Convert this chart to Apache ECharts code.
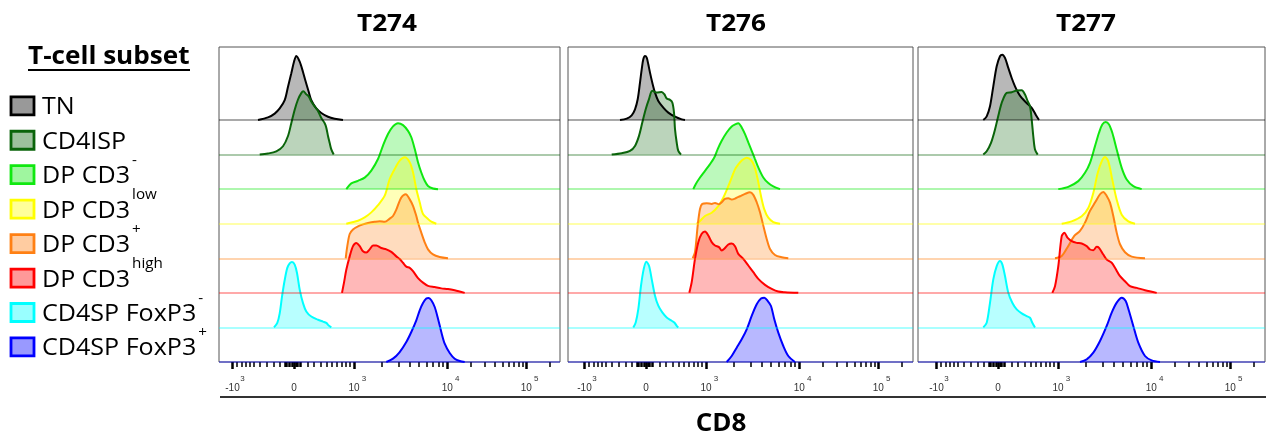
<!DOCTYPE html>
<html>
<head>
<meta charset="utf-8">
<script src="https://cdn.jsdelivr.net/npm/echarts@6/dist/echarts.min.js"></script>
<style>
  html, body { margin: 0; padding: 0; background: #fff; }
  #chart { width: 1266px; height: 438px; }
</style>
</head>
<body>
<div id="chart"></div>
<script>
// Samples (one panel each) and T-cell subsets (one ridge each, top to bottom)
const samples = ['T274', 'T276', 'T277'];
const subsetNames = ['TN', 'CD4ISP', 'DP CD3', 'DP CD3', 'DP CD3', 'DP CD3', 'CD4SP FoxP3', 'CD4SP FoxP3'];
const subsetSups  = ['', '', '-', 'low', '+', 'high', '-', '+'];
const subsetColors = ['#000000', '#0a640a', '#10e810', '#ffff00', '#ff8014', '#ff0000', '#00ffff', '#0000ff'];

// CD8 axis in display channels (biexponential scale): tick positions and labels
const majorTicks = [13.5, 75, 135, 228.3, 307.3];
const tickBases = ['-10', '0', '10', '10', '10'];
const tickExponents = ['3', '', '3', '4', '5'];
const minorTicks = [18, 22.5, 26.7, 31, 35, 41, 47.7, 54.3, 60.5,
  65.5, 66.8, 68, 69.3, 70.8, 72.5, 73.8, 76.3, 77.8, 79.2, 80.5, 81.8,
  89, 95, 102, 108, 113, 118, 122.5, 127, 130.5,
  163.1, 179.5, 191.2, 200.2, 207.6, 213.9, 219.3, 224.1,
  252.1, 266, 275.9, 283.5, 289.8, 295.1, 299.6, 303.7, 331.1];

// Histograms: [CD8 channel, % of mode], one list per subset, per sample
const t274 = [
  [[39,0],[49,4],[55.7,10],[60.7,18],[65.7,31],[69,52],[72.3,73],[75,91],[77.3,100],[80.7,91],[84,75],[86.3,62],[89.7,44],[92.3,31],[97.3,18],[102.3,11],[109,5],[115.7,2],[124,0]],
  [[40.7,0],[49,1.6],[57.3,5],[64,13],[69,29],[72.3,49],[75.7,70],[79,86],[82.3,96],[84.3,99],[87.3,94],[89.7,91],[92.3,83],[95.7,75],[99,68],[102.3,57],[105.7,49],[107.3,42],[109,29],[110.7,18],[112.3,8],[114.7,0]],
  [[127.3,0],[132.3,9],[139,13],[145.7,18],[152.3,29],[159,47],[164,68],[169,86],[174,98],[179,103],[184,100],[189,91],[192.3,81],[195.7,63],[199,42],[202.3,26],[205.7,13],[209,5],[214,1],[219,0]],
  [[127.3,0],[132.3,2],[139,4.7],[145.7,9.8],[152.3,17.7],[159,29],[165.7,43.8],[170.7,69.8],[175.7,85.5],[180.7,98.4],[185.7,103.7],[190.7,95.9],[194,80.3],[197.3,54.2],[200.7,33.4],[204,15.2],[209,7.3],[212.3,3.1],[217.3,0]],
  [[126.7,0],[128.3,19],[130.7,38],[134,45],[139,50],[144,53],[149,55],[155.7,57],[160.7,58],[165.7,57],[170.7,62],[174,66],[177.3,76],[182.3,95],[186.7,100],[190.7,92],[194,82],[197.3,66],[199,56],[202.3,40],[205.7,25],[209,14],[214,6],[220.7,2],[229,0]],
  [[123,0],[125,16],[127.3,36],[130.7,57],[134,73],[137.3,78],[140.7,73],[144,65],[147.3,63],[150.7,68],[154,74],[157.3,74],[162.3,70],[167.3,68],[172.3,64],[177.3,57],[180.7,53],[184,47],[187.3,41],[190.7,39],[194,34],[199,23],[204,16],[209,11],[215.7,9],[222.3,7],[229,6],[235.7,4],[245.7,0]],
  [[55,0],[58.3,7],[60.7,22],[63,48],[65.7,74],[68.3,93],[70.7,100],[73,102],[75.7,98],[78,85],[80.7,59],[84,38],[87.3,25],[92.3,17],[99,12],[104,9],[107.3,7],[109.7,3],[112.3,0]],
  [[167.3,0],[174,5.2],[180.7,15.6],[187.3,31.3],[192.3,46.9],[197.3,65.1],[200.7,80.7],[204,92.2],[207.3,99],[209.7,100],[212.3,96.4],[215.7,85.9],[219,67.7],[222.3,46.9],[225.7,28.6],[230.7,14.1],[235.7,5.2],[240.7,1.6],[245.7,0]]
];
const t276 = [
  [[49,0],[55.7,2.1],[60.7,7.3],[64,16.7],[66.7,32.3],[69,58.3],[70.7,79.2],[72.3,94.8],[74,100],[75.7,97.4],[77.3,87],[79,74],[81.3,58.3],[84,42.7],[87.3,29.7],[92.3,19.3],[97.3,11.5],[104,5.2],[110.7,1],[114,0]],
  [[40.7,0],[50.7,2.1],[59,5.7],[64,13.5],[68,29.2],[71.3,50],[74.7,70.8],[78,86.5],[81.3,99.5],[85.7,96.9],[90.7,97.9],[93.3,94.3],[95.7,87.5],[99,85.4],[101.3,81.3],[103,65.6],[104,39.6],[105.7,18.8],[107.3,5.7],[110,0]],
  [[122.3,0],[124.7,7.8],[129,18.2],[134,28.6],[139,39.1],[143.3,49.5],[146.7,62.5],[150.7,75.5],[155.7,88.5],[160.7,97.9],[164.7,101.6],[167.3,103.1],[170.7,96.4],[174,85.9],[177.3,72.9],[180.7,59.9],[184,46.9],[187.3,33.9],[192.3,18.2],[197.3,9.4],[202.3,4.2],[209,0]],
  [[125.7,0],[129,4.2],[134,12],[140.7,17.2],[147.3,27.6],[152.3,40.6],[156.7,56.3],[160.7,71.9],[164,84.9],[167.3,92.7],[171.3,99.5],[175.7,103.1],[180,99.5],[183.3,90.1],[186.7,69.3],[190,43.2],[193.3,22.4],[197.3,9.4],[202.3,2.6],[209,0]],
  [[121.7,0],[124,9.4],[126.7,51],[129,77.1],[131.3,84.9],[135.7,85.9],[140.7,84.9],[144,86.5],[148,84.4],[150.7,87.5],[154,92.7],[157.3,93.7],[160.7,91.7],[164.7,93.7],[169,96.9],[174,100.5],[179,103.1],[182.3,99],[185.7,87.5],[189,71.9],[192.3,51],[195.7,30.2],[199,14.6],[204,5.2],[210.7,1.6],[217.3,0]],
  [[118.3,0],[120.7,16.7],[124,53.1],[127.3,79.2],[130.7,92.2],[134,95.8],[137.3,89.6],[140.7,79.2],[144,74],[148,71.4],[150.7,66.1],[153.3,68.8],[157.3,75.5],[160.7,77.1],[164,72.9],[167.3,60.9],[172.3,53.1],[177.3,42.7],[182.3,32.3],[187.3,21.9],[194,12.5],[200.7,6.3],[207.3,2.1],[214,1],[227.3,0]],
  [[62.3,0],[64.7,7.8],[67.3,28.6],[70,65.1],[72.7,91.1],[75.3,102.6],[78,96.4],[80.7,75.5],[84,49.5],[87.3,33.9],[91.3,23.4],[95.7,15.6],[100.7,10.4],[103.3,7.8],[105.7,2.6],[107.3,0]],
  [[155.7,0],[160.7,9.4],[165.7,22.4],[170.7,35.4],[175.7,51],[180.7,71.9],[185.7,90.1],[190,99],[193.3,100.5],[196.7,95.3],[200,87.5],[203.3,66.7],[207.3,45.8],[212.3,25],[217.3,9.4],[224,0]]
];
const t277 = [
  [[60.3,0],[63.7,5.7],[67,21.4],[70.3,52.6],[73.7,83.8],[77,99.5],[79.3,102],[82,96.9],[85.3,81.3],[88.7,65.6],[92,52.6],[95.3,42.2],[98.7,34.4],[103.7,26.6],[108.7,18.8],[112.7,8.3],[116,0]],
  [[60.3,0],[63.7,5.2],[68,18.2],[72,39.1],[76,65.1],[79.3,83.3],[83.7,96.4],[88.7,97.4],[93.7,100],[98.7,100.5],[102,93.7],[104.7,83.3],[107,75.5],[108.7,54.7],[110.3,28.6],[112,7.8],[114.7,0]],
  [[135.3,0],[145.3,3.6],[155.3,12.5],[162,25.5],[167,41.1],[172,67.2],[176,88],[179.3,101],[182.7,104.7],[186,101],[189.3,88],[193.7,62],[198.7,33.3],[203.7,15.1],[210.3,4.7],[218.7,0]],
  [[138.7,0],[148.7,3.6],[158.7,11.5],[165.3,24.5],[170.3,47.9],[174.7,79.2],[178.7,97.4],[182,104.2],[185.3,97.4],[189.3,68.8],[193.7,37.5],[198.7,14.1],[205.3,3.6],[212,0]],
  [[132,0],[138.7,3.6],[145.3,19.3],[151.3,34.9],[157,42.7],[162,55.7],[167,74],[172,87],[177,100],[180.3,103.6],[183.7,97.4],[187,87],[190.3,66.1],[193.7,40.1],[197,21.9],[202,9.4],[208.7,2.6],[222,0]],
  [[129.3,0],[132,10.4],[135.3,41.7],[138.7,88.5],[141.3,93.7],[144.7,85.9],[148.7,80.7],[153.7,78.1],[158.7,77.1],[163.7,72.9],[167,67.7],[170.3,66.7],[173.7,71.9],[176,70.3],[180.3,59.9],[183.7,52.1],[188.7,46.9],[192,39.1],[197,26],[202,18.2],[207,10.4],[213.7,7.8],[222,4.2],[233.7,0]],
  [[60.3,0],[63.7,7.3],[67,38.5],[70.3,75],[73.7,95.8],[77,103.6],[79.3,98.4],[82,80.2],[85.3,54.2],[89.3,38.5],[93.7,28.1],[98.7,21.9],[103.7,17.7],[107,15.1],[109.3,7.3],[112,0]],
  [[157,0],[163.7,4.2],[170.3,14.6],[177,32.8],[183.7,56.3],[188.7,77.1],[193.7,92.7],[198.7,100.5],[202.7,95.3],[206,79.7],[210.3,56.3],[215.3,30.2],[222,9.4],[228.7,2.6],[237,0]]
];
const histograms = [t274, t276, t277];

// ---- layout ----
const panels = [
  { left: 219, width: 341, min: 0,  max: 341 },
  { left: 568, width: 345, min: -3, max: 342 },
  { left: 918, width: 347, min: -5, max: 342 }
];
const gridTop = 47, gridHeight = 315;
const ridgeStep = 54;          // vertical offset between ridges, in % of mode
const yMax = 492;              // grid height expressed in % of mode

function hexToRgba(hex, a) {
  const n = parseInt(hex.slice(1), 16);
  return `rgba(${(n >> 16) & 255},${(n >> 8) & 255},${n & 255},${a})`;
}

const labelFont = 'Liberation Sans';
const grid = [], xAxis = [], yAxis = [], series = [];

panels.forEach((p, pi) => {
  grid.push({
    left: p.left, top: gridTop, width: p.width, height: gridHeight,
    show: true, borderColor: '#555', borderWidth: 1, backgroundColor: 'transparent'
  });
  // major ticks with the decade base (10, -10, 0)
  xAxis.push({
    type: 'value', gridIndex: pi, min: p.min, max: p.max, position: 'bottom',
    axisLine: { show: false }, splitLine: { show: false },
    axisTick: { show: true, customValues: majorTicks, length: 7, lineStyle: { color: '#000', width: 2.5 } },
    axisLabel: {
      show: true, customValues: majorTicks, margin: 21,
      fontSize: 10, fontFamily: labelFont, color: '#333',
      formatter: v => tickBases[majorTicks.indexOf(v)] || ''
    }
  });
  // minor ticks, plus the raised decade exponents
  xAxis.push({
    type: 'value', gridIndex: pi, min: p.min, max: p.max, position: 'bottom',
    axisLine: { show: false }, splitLine: { show: false },
    axisTick: { show: true, customValues: minorTicks, length: 5, lineStyle: { color: '#000', width: 1.5 } },
    axisLabel: {
      show: true, customValues: majorTicks, margin: 13,
      fontSize: 8, fontFamily: labelFont, color: '#333', padding: [0, 0, 0, 20],
      formatter: v => tickExponents[majorTicks.indexOf(v)] || ''
    }
  });
  yAxis.push({ type: 'value', gridIndex: pi, min: 0, max: yMax, show: false });

  histograms[pi].forEach((curve, si) => {
    const base = (subsetNames.length - 1 - si) * ridgeStep;
    const color = subsetColors[si];
    series.push({
      type: 'line', xAxisIndex: pi * 2, yAxisIndex: pi,
      data: curve.map(([x, y]) => [x, base + y]),
      smooth: 0.3, symbol: 'none', silent: true,
      lineStyle: { color, width: 2 },
      areaStyle: { color: hexToRgba(color, 0.4), origin: base },
      markLine: {
        silent: true, symbol: 'none', label: { show: false },
        lineStyle: { color: hexToRgba(color, 0.45), width: 1.5, type: 'solid' },
        data: [{ yAxis: base }]
      }
    });
  });
});

// ---- titles, legend, axis title ----
const measureCtx = document.createElement('canvas').getContext('2d');
function textWidth(str, font) { measureCtx.font = font; return measureCtx.measureText(str).width; }

const FONT = '"Open Sans", "Liberation Sans", sans-serif';
const WIDE = 1.09;   // horizontal stretch of the heading and legend lettering
function textStyle(text, size, weight, align) {
  return { text, fontFamily: FONT, fontSize: size, fontWeight: weight, fill: '#000',
           align, verticalAlign: 'middle', textAlign: align, textVerticalAlign: 'middle' };
}
const graphic = [];
const titleX = [387, 736, 1086];
samples.forEach((s, i) => graphic.push({
  type: 'text', x: titleX[i], y: 24, scaleX: WIDE, style: textStyle(s, 24, 'bold', 'center')
}));
graphic.push({ type: 'text', x: 721, y: 424, scaleX: 1.04, style: textStyle('CD8', 25, 'bold', 'center') });
graphic.push({ type: 'line', shape: { x1: 220, y1: 397, x2: 1266, y2: 397 }, style: { stroke: '#333', lineWidth: 2 } });

// legend
graphic.push({ type: 'text', x: 28, y: 57, scaleX: 1.045, style: textStyle('T-cell subset', 25, 'bold', 'left') });
graphic.push({ type: 'line', shape: { x1: 28, y1: 70, x2: 190, y2: 70 }, style: { stroke: '#000', lineWidth: 2 } });

const legendFontSize = 23;
subsetNames.forEach((name, i) => {
  const cy = 105.8 + i * 34.45;
  const color = subsetColors[i];
  graphic.push({
    type: 'rect', shape: { x: 11, y: cy - 9, width: 23, height: 18 },
    style: { fill: hexToRgba(color, 0.4), stroke: color, lineWidth: 2.8 }
  });
  graphic.push({ type: 'text', x: 42, y: cy + 2, scaleX: WIDE, style: textStyle(name, legendFontSize, 'normal', 'left') });
  if (subsetSups[i]) {
    const w = textWidth(name, `${legendFontSize}px ${FONT}`) * WIDE;
    graphic.push({ type: 'text', x: 42 + w + 2, y: cy - 14, scaleX: 1.05, style: textStyle(subsetSups[i], 14.5, 'normal', 'left') });
  }
});

const chart = echarts.init(document.getElementById('chart'));
chart.setOption({ animation: false, backgroundColor: '#fff', grid, xAxis, yAxis, series, graphic });
</script>
</body>
</html>
